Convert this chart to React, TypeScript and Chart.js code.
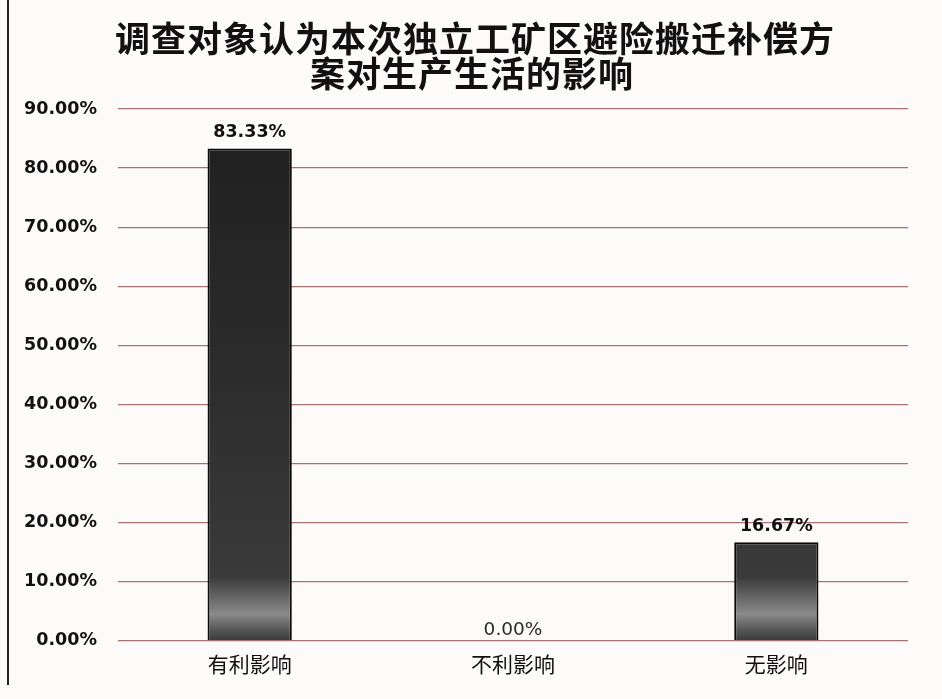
import React, { useEffect, useRef } from "react";
import { Chart, registerables } from "chart.js";

Chart.register(...registerables);

const titleLines = ["调查对象认为本次独立工矿区避险搬迁补偿方", "案对生产生活的影响"];
const categories = ["有利影响", "不利影响", "无影响"];
const values = [83.33, 0, 16.67];
const yMax = 90;
const yStep = 10;

const valueLabels = {
  id: "valueLabels",
  afterDatasetsDraw(chart: any) {
    const ctx = chart.ctx;
    const meta = chart.getDatasetMeta(0);
    ctx.save();
    ctx.textAlign = "center";
    ctx.textBaseline = "bottom";
    meta.data.forEach((bar: any, i: number) => {
      const v = values[i];
      if (v === 0) {
        ctx.font = "normal 18.5px 'DejaVu Sans'";
        ctx.fillStyle = "#2a2a2a";
        ctx.fillText(v.toFixed(2) + "%", bar.x, bar.y - 1);
      } else {
        ctx.font = "bold 17.5px 'DejaVu Sans'";
        ctx.fillStyle = "#111";
        ctx.fillText(v.toFixed(2) + "%", bar.x, bar.y - 7);
      }
    });
    ctx.restore();
  },
};

const frame = {
  id: "frame",
  beforeDraw(chart: any) {
    const ctx = chart.ctx;
    ctx.save();
    ctx.fillStyle = "#fdfafa";
    ctx.fillRect(0, 0, chart.width, chart.height);
    ctx.strokeStyle = "#222";
    ctx.lineWidth = 2;
    ctx.beginPath();
    ctx.moveTo(8, 0);
    ctx.lineTo(8, 685);
    ctx.stroke();
    ctx.fillStyle = "#111";
    ctx.textAlign = "center";
    ctx.textBaseline = "middle";
    ctx.font = "bold 35px 'Noto Sans CJK SC'";
    ctx.letterSpacing = "1px";
    ctx.fillText(titleLines[0], 475, 39);
    ctx.fillText(titleLines[1], 472, 74);
    ctx.restore();
  },
};

export default function App() {
  const ref = useRef<HTMLCanvasElement | null>(null);
  useEffect(() => {
    if (!ref.current) return;
    const chart = new Chart(ref.current, {
      type: "bar",
      data: {
        labels: categories,
        datasets: [
          {
            data: values,
            backgroundColor: (c: any) => {
              const area = c.chart.chartArea;
              if (!area) return "#2a2a2a";
              const g = c.chart.ctx.createLinearGradient(0, area.top, 0, area.bottom);
              g.addColorStop(0, "#1f1f1f");
              g.addColorStop(0.5, "#2c2c2c");
              g.addColorStop(0.88, "#3a3a3a");
              g.addColorStop(0.95, "#8a8a8a");
              g.addColorStop(0.98, "#555");
              g.addColorStop(1, "#3a3a3a");
              return g;
            },
            borderColor: "#0a0a0a",
            borderWidth: 2,
            categoryPercentage: 1,
            barPercentage: 0.32,
          },
        ],
      },
      options: {
        animation: false,
        responsive: false,
        maintainAspectRatio: false,
        layout: { padding: { left: 0, right: 34, top: 109, bottom: 19 } },
        plugins: {
          legend: { display: false },
          tooltip: { enabled: false },
          title: { display: false },
        },
        scales: {
          x: {
            grid: { display: false },
            border: { display: false },
            ticks: {
              color: "#111",
              padding: 3,
              font: { family: "'Noto Sans CJK SC'", size: 21 },
            },
          },
          y: {
            min: 0,
            max: yMax,
            afterFit: (s: any) => {
              s.width = 118;
            },
            grid: { color: "#a87272", lineWidth: 1.2, drawTicks: false },
            border: { display: false },
            ticks: {
              stepSize: yStep,
              padding: 21,
              color: "#111",
              font: { family: "'DejaVu Sans'", size: 17.5, weight: "bold" },
              callback: (v: any) => Number(v).toFixed(2) + "%",
            },
          },
        },
      },
      plugins: [frame, valueLabels],
    });
    return () => chart.destroy();
  }, []);
  return (
    <div style={{ position: "absolute", left: 0, top: 0, width: 942, height: 699 }}>
      <canvas ref={ref} width={942} height={699} style={{ display: "block" }} />
    </div>
  );
}
